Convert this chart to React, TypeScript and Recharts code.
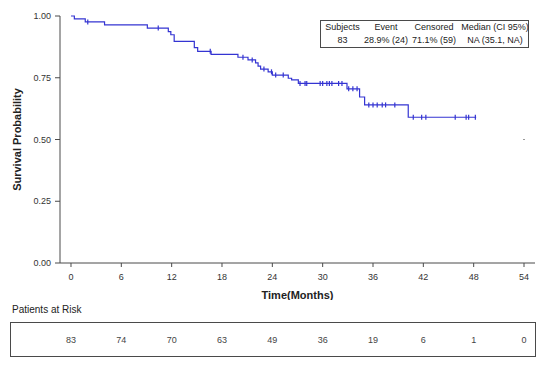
import {
  ComposedChart,
  Line,
  Scatter,
  XAxis,
  YAxis,
} from "recharts";

// KM step curve: time (months) and survival after each drop
const stepTimes = [0, 0.4, 1.7, 4.0, 9.1, 11.6, 11.9, 12.3, 14.7, 15.1, 16.7, 19.9, 21.1, 22.0, 22.3, 22.6, 23.5, 24.0, 25.9, 26.3, 27.1, 32.9, 34.4, 35.0, 40.2, 48.3];
const stepSurv = [1.0, 0.988, 0.976, 0.964, 0.951, 0.937, 0.924, 0.897, 0.872, 0.857, 0.845, 0.833, 0.822, 0.81, 0.797, 0.785, 0.774, 0.761, 0.748, 0.741, 0.727, 0.705, 0.672, 0.64, 0.59, 0.59];

// censored observations
const censorTimes = [2.0, 10.4, 16.6, 20.5, 21.6, 23.0, 23.9, 24.4, 25.3, 27.3, 27.9, 28.1, 29.7, 30.0, 30.5, 30.8, 31.1, 31.9, 32.3, 33.1, 33.6, 34.1, 35.5, 36.0, 36.5, 37.1, 37.5, 38.6, 40.8, 41.8, 42.3, 45.8, 47.1, 47.4, 48.2];
const censorSurv = [0.976, 0.951, 0.857, 0.833, 0.822, 0.785, 0.774, 0.761, 0.761, 0.727, 0.727, 0.727, 0.727, 0.727, 0.727, 0.727, 0.727, 0.727, 0.727, 0.705, 0.705, 0.705, 0.64, 0.64, 0.64, 0.64, 0.64, 0.64, 0.59, 0.59, 0.59, 0.59, 0.59, 0.59, 0.59];

const strayMark = [{ t: 54, s: 0.5 }];

const xTicks = [0, 6, 12, 18, 24, 30, 36, 42, 48, 54];
const yTicks = [0, 0.25, 0.5, 0.75, 1];
const atRisk = [83, 74, 70, 63, 49, 36, 19, 6, 1, 0];

const summaryHead = ["Subjects", "Event", "Censored", "Median (CI 95%)"];
const summaryRow = ["83", "28.9% (24)", "71.1% (59)", "NA (35.1, NA)"];
const colWidths = [43, 44, 52, 70];

const FONT = "'Liberation Sans', Arial, Helvetica, sans-serif";
const BLUE = "#3434d2";
const AXIS = "#4a4a4a";
const X_DOMAIN: [number, number] = [-1.31, 55.31];

const curve = stepTimes.map((t, i) => ({ t, s: stepSurv[i] }));
const censors = censorTimes.map((t, i) => ({ t, s: censorSurv[i] }));
const riskRows = xTicks.map((t, i) => ({ t, n: atRisk[i] }));

function CensorTick(props: any) {
  const { cx, cy } = props;
  if (cx == null || cy == null) return null;
  return <line x1={cx} x2={cx} y1={cy - 2.5} y2={cy + 2.5} stroke={BLUE} strokeWidth={1.2} />;
}

function StrayDash(props: any) {
  const { cx, cy } = props;
  if (cx == null || cy == null) return null;
  return <line x1={cx - 1} x2={cx + 1} y1={cy} y2={cy} stroke="#999" strokeWidth={1} />;
}

export default function App() {
  const tickStyle = { fontSize: 9, fill: "#333", fontFamily: FONT };
  return (
    <div style={{ position: "absolute", left: 0, top: 0, width: 550, height: 370, background: "#fff", fontFamily: FONT }}>
      <ComposedChart width={550} height={300} margin={{ top: 16, right: 15, left: 0, bottom: 0 }}>
        <XAxis
          dataKey="t"
          type="number"
          domain={X_DOMAIN}
          allowDataOverflow
          ticks={xTicks}
          tick={tickStyle}
          tickSize={4}
          tickMargin={7}
          height={37}
          stroke={AXIS}
          label={{
            value: "Time(Months)",
            position: "insideBottom",
            offset: 1,
            style: { fontSize: 11, fontWeight: 700, fill: "#222", fontFamily: FONT },
          }}
        />
        <XAxis xAxisId="top" orientation="top" dataKey="t" type="number" domain={X_DOMAIN} allowDataOverflow tick={false} tickLine={false} height={0} stroke={AXIS} />
        <YAxis
          dataKey="s"
          type="number"
          domain={[0, 1]}
          ticks={yTicks}
          tickFormatter={(v: number) => v.toFixed(2)}
          tick={tickStyle}
          tickSize={5}
          tickMargin={4}
          width={60}
          stroke={AXIS}
          label={{
            value: "Survival Probability",
            angle: -90,
            position: "insideLeft",
            offset: 17,
            style: { fontSize: 11, fontWeight: 700, fill: "#222", fontFamily: FONT, textAnchor: "middle" },
          }}
        />
        <YAxis yAxisId="right" orientation="right" domain={[0, 1]} tick={false} tickLine={false} width={0} stroke={AXIS} />
        <Line
          data={curve}
          dataKey="s"
          type="stepAfter"
          stroke={BLUE}
          strokeWidth={1.2}
          dot={false}
          activeDot={false}
          isAnimationActive={false}
        />
        <Scatter data={censors} dataKey="s" shape={<CensorTick />} isAnimationActive={false} />
        <Scatter data={strayMark} dataKey="s" shape={<StrayDash />} isAnimationActive={false} />
      </ComposedChart>

      <div style={{ position: "absolute", left: 320, top: 20, width: 207, height: 26, border: `1px solid ${AXIS}`, background: "#fff", fontSize: 9, color: "#222" }}>
        <table style={{ borderCollapse: "collapse", tableLayout: "fixed", width: 207, fontFamily: FONT, fontSize: 9 }}>
          <tbody>
            <tr style={{ height: 13 }}>
              {summaryHead.map((h, i) => (
                <td key={h} style={{ width: colWidths[i], padding: 0, textAlign: "center", whiteSpace: "nowrap", lineHeight: "13px" }}>{h}</td>
              ))}
            </tr>
            <tr style={{ height: 13 }}>
              {summaryRow.map((v, i) => (
                <td key={i} style={{ width: colWidths[i], padding: 0, textAlign: "center", whiteSpace: "nowrap", lineHeight: "13px" }}>{v}</td>
              ))}
            </tr>
          </tbody>
        </table>
      </div>

      <div style={{ position: "absolute", left: 12, top: 304, fontSize: 10, color: "#222", lineHeight: "12px" }}>
        Patients at Risk
      </div>
      <div style={{ position: "absolute", left: 10, top: 322, width: 524, height: 33, border: `1px solid ${AXIS}` }} />
      <div style={{ position: "absolute", left: 0, top: 322 }}>
        <ComposedChart width={550} height={35} data={riskRows} margin={{ top: 0, right: 15, left: 60, bottom: 0 }}>
          <XAxis
            dataKey="t"
            type="number"
            domain={X_DOMAIN}
            allowDataOverflow
            ticks={xTicks}
            tickFormatter={(v: number) => String(atRisk[xTicks.indexOf(v)])}
            tick={{ fontSize: 9, fill: "#444", fontFamily: FONT }}
            axisLine={false}
            tickLine={false}
            tickSize={4}
            tickMargin={6}
            height={30}
          />
          <YAxis hide domain={[0, 100]} />
          <Line dataKey="n" stroke="none" dot={false} activeDot={false} isAnimationActive={false} />
        </ComposedChart>
      </div>
    </div>
  );
}
